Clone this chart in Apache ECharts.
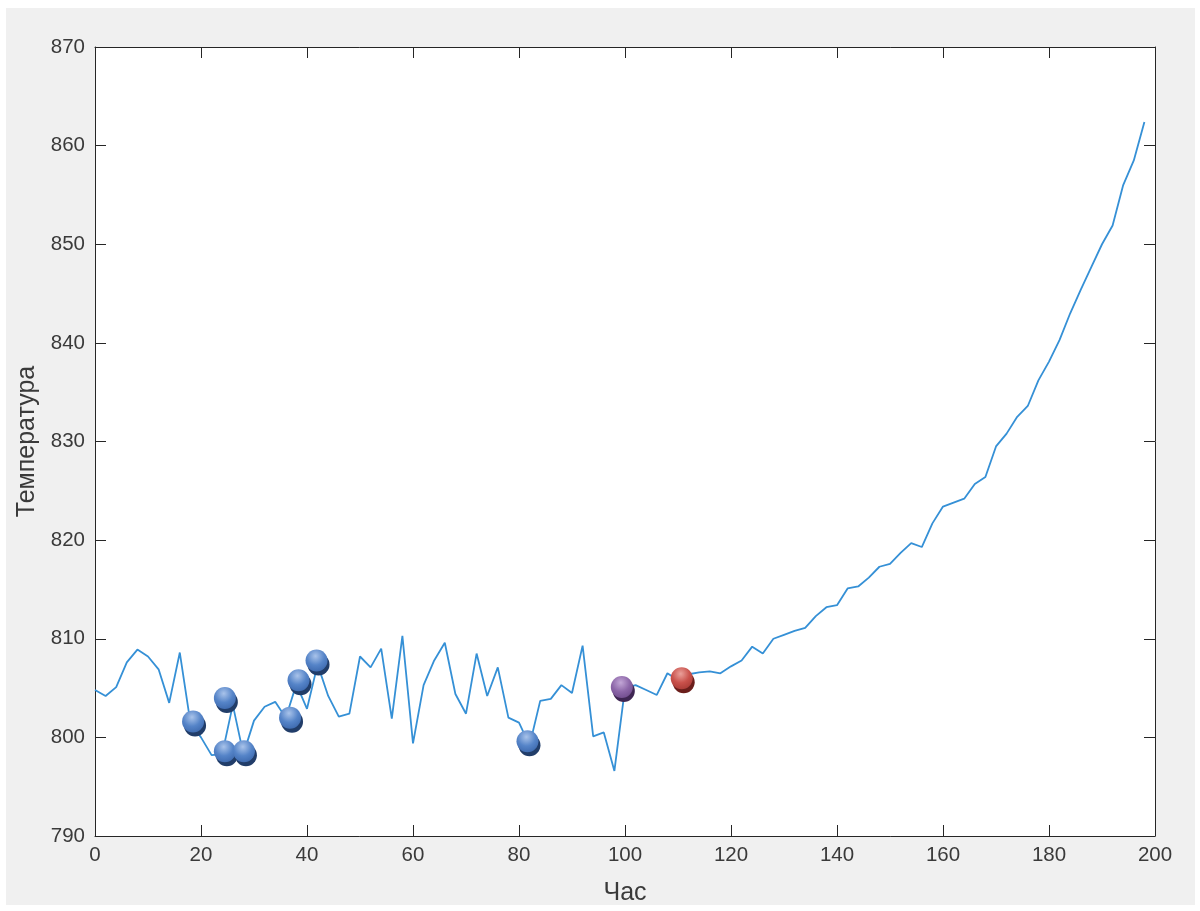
<!DOCTYPE html>
<html>
<head>
<meta charset="utf-8">
<title>Температура</title>
<script src="https://cdn.jsdelivr.net/npm/echarts@6/dist/echarts.min.js"></script>
<style>
  html, body { margin: 0; padding: 0; background: #fff; }
  #chart { position: absolute; left: 6px; top: 8px; width: 1189px; height: 897px; }
</style>
</head>
<body>
<div id="chart"></div>
<script>
  // ----- data -----
  const hours = [
    0, 2, 4, 6, 8, 10, 12, 14, 16, 18, 20, 22, 24, 26, 28, 30, 32, 34, 36, 38,
    40, 42, 44, 46, 48, 50, 52, 54, 56, 58, 60, 62, 64, 66, 68, 70, 72, 74, 76, 78,
    80, 82, 84, 86, 88, 90, 92, 94, 96, 98, 100, 102, 104, 106, 108, 110, 112, 114, 116, 118,
    120, 122, 124, 126, 128, 130, 132, 134, 136, 138, 140, 142, 144, 146, 148, 150, 152, 154, 156, 158,
    160, 162, 164, 166, 168, 170, 172, 174, 176, 178, 180, 182, 184, 186, 188, 190, 192, 194, 196, 198
  ];
  const temps = [
    804.8, 804.2, 805.1, 807.6, 808.9, 808.2, 806.9, 803.5, 808.6, 801.5,
    800.0, 798.2, 798.3, 803.3, 798.3, 801.7, 803.1, 803.6, 802.0, 805.4,
    802.9, 807.4, 804.2, 802.1, 802.4, 808.2, 807.1, 809.0, 801.9, 810.3,
    799.4, 805.3, 807.8, 809.6, 804.4, 802.4, 808.5, 804.2, 807.1, 802.0,
    801.5, 799.2, 803.7, 803.9, 805.3, 804.5, 809.3, 800.1, 800.5, 796.6,
    805.0, 805.3, 804.8, 804.3, 806.5, 805.8, 806.4, 806.6, 806.7, 806.5,
    807.2, 807.8, 809.2, 808.5, 810.0, 810.4, 810.8, 811.1, 812.3, 813.2,
    813.4, 815.1, 815.3, 816.2, 817.3, 817.6, 818.7, 819.7, 819.3, 821.7,
    823.4, 823.8, 824.2, 825.7, 826.4, 829.5, 830.8, 832.5, 833.6, 836.2,
    838.1, 840.3, 843.0, 845.4, 847.7, 850.0, 851.9, 856.0, 858.5, 862.4
  ];

  // highlighted points
  const blueHours = [18.5, 24.5, 24.5, 28.1, 36.8, 38.4, 41.8, 81.6];
  const blueTemps = [801.6, 804.0, 798.6, 798.6, 802.0, 805.8, 807.8, 799.6];
  const purpleHours = [99.4];
  const purpleTemps = [805.1];
  const redHours = [110.7];
  const redTemps = [806.0];

  const xTicks = [0, 20, 40, 60, 80, 100, 120, 140, 160, 180, 200];
  const yTicks = [790, 800, 810, 820, 830, 840, 850, 860, 870];

  const zip = (xs, ys) => xs.map((x, i) => [x, ys[i]]);

  const axisColor = '#262626';
  const textColor = '#3a3a3a';
  const fontFamily = 'Liberation Sans, Arial, sans-serif';

  // glossy ball, drawn as a dark shadow plus a lit sphere
  const ball = (name, pts, light, mid, dark, shade) => [
    {
      name: name + '-shadow',
      type: 'scatter',
      data: pts,
      symbolSize: 22,
      symbolOffset: [2, 4],
      itemStyle: { color: shade, opacity: 1 },
      z: 5,
      silent: true
    },
    {
      name: name,
      type: 'scatter',
      data: pts,
      symbolSize: 22,
      itemStyle: {
        opacity: 1,
        color: {
          type: 'radial', x: 0.45, y: 0.3, r: 0.75,
          colorStops: [
            { offset: 0, color: light },
            { offset: 0.55, color: mid },
            { offset: 1, color: dark }
          ]
        }
      },
      z: 6
    }
  ];

  const chart = echarts.init(document.getElementById('chart'));

  const baseX = {
    type: 'value',
    min: xTicks[0],
    max: xTicks[xTicks.length - 1],
    interval: 20,
    axisLine: { show: true, onZero: false, lineStyle: { color: axisColor, width: 1 } },
    axisTick: { show: true, inside: true, length: 11, lineStyle: { color: axisColor } },
    splitLine: { show: false }
  };
  const baseY = {
    type: 'value',
    min: yTicks[0],
    max: yTicks[yTicks.length - 1],
    interval: 10,
    axisLine: { show: true, onZero: false, lineStyle: { color: axisColor, width: 1 } },
    axisTick: { show: true, inside: true, length: 11, lineStyle: { color: axisColor } },
    splitLine: { show: false }
  };

  chart.setOption({
    backgroundColor: '#f0f0f0',
    animation: false,
    grid: {
      left: 89,
      right: 40,
      top: 39,
      bottom: 69,
      containLabel: false,
      outerBoundsMode: 'none',
      show: true,
      backgroundColor: '#ffffff',
      borderWidth: 0
    },
    xAxis: [
      Object.assign({}, baseX, {
        position: 'bottom',
        name: 'Час',
        nameLocation: 'middle',
        nameGap: 45,
        nameTextStyle: { color: textColor, fontSize: 25, fontFamily },
        axisLabel: { color: textColor, fontSize: 20.5, margin: 9, fontFamily }
      }),
      Object.assign({}, baseX, {
        position: 'top',
        axisLabel: { show: false }
      })
    ],
    yAxis: [
      Object.assign({}, baseY, {
        position: 'left',
        name: 'Температура',
        nameLocation: 'middle',
        nameGap: 53,
        nameTextStyle: { color: textColor, fontSize: 25, fontFamily },
        axisLabel: { color: textColor, fontSize: 20.5, margin: 10, fontFamily }
      }),
      Object.assign({}, baseY, {
        position: 'right',
        axisLabel: { show: false }
      })
    ],
    series: [
      {
        name: 'Температура',
        type: 'line',
        data: zip(hours, temps),
        showSymbol: false,
        symbol: 'none',
        lineStyle: { color: '#3590d6', width: 1.8 },
        z: 3
      },
      ...ball('blue', zip(blueHours, blueTemps), '#a9c3ea', '#5584c8', '#3c68ad', '#213d69'),
      ...ball('purple', zip(purpleHours, purpleTemps), '#c2a6d6', '#8c66a8', '#6f4b8c', '#3f2653'),
      ...ball('red', zip(redHours, redTemps), '#eaa09a', '#c9514b', '#a83a35', '#6b1e1b')
    ]
  });
</script>
</body>
</html>
